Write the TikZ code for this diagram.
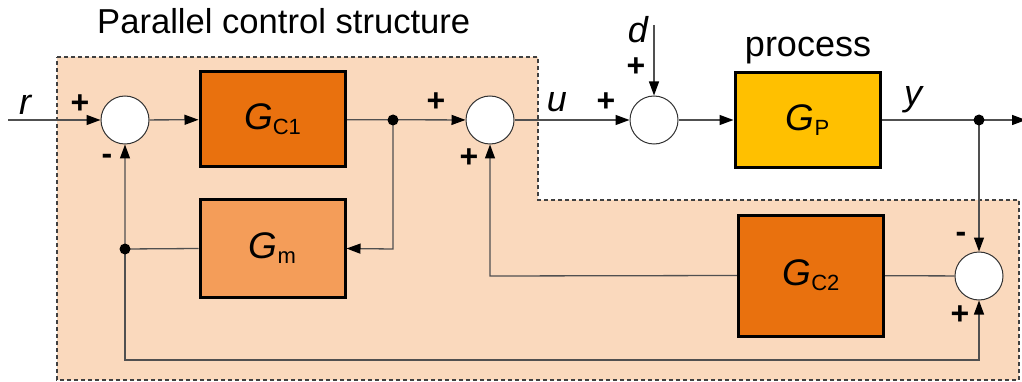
\documentclass[tikz,border=0pt]{standalone}
\usepackage{fontspec}
\setmainfont{Liberation Sans}
\usetikzlibrary{arrows.meta,backgrounds}
\definecolor{peach}{RGB}{250,217,189}
\definecolor{orangeC}{RGB}{233,113,14}
\definecolor{gmc}{RGB}{244,157,89}
\definecolor{gpc}{RGB}{255,192,0}
\definecolor{linec}{RGB}{80,80,80}
\newcommand{\glab}[1]{\fontsize{37}{37}\selectfont\itshape G\upshape\raisebox{-5pt}{\fontsize{22}{22}\selectfont #1}}
\begin{document}
\begin{tikzpicture}[x=1pt,y=-1pt,
  block/.style={draw=black, line width=3pt, minimum width=145pt, minimum height=95pt, inner sep=0pt},
  sumj/.style={circle, draw=black!80, fill=white, minimum size=48pt, inner sep=0pt, line width=1pt},
  conn/.style={draw=linec, line width=1.3pt},
  arr/.style={conn, -{Triangle[length=14pt,width=10pt,black]}},
  dot/.style={circle, fill=black, minimum size=11pt, inner sep=0pt},
  sign/.style={font=\fontsize{32}{32}\selectfont\bfseries, inner sep=0pt},
  var/.style={font=\fontsize{36}{36}\selectfont\itshape, inner sep=0pt, anchor=base},
  lbl/.style={font=\fontsize{36}{36}\selectfont, inner sep=0pt}
]
\useasboundingbox (0,0) rectangle (1022,382);
\begin{scope}[on background layer]
  \path[fill=peach, draw=black!75, line width=1.3pt, dash pattern=on 4pt off 3pt]
    (57,57) -- (538,57) -- (538,200) -- (1019,200) -- (1019,380) -- (57,380) -- cycle;
\end{scope}

% nodes
\node[sumj] (s1) at (125,120) {};
\node[block, fill=orangeC] (gc1) at (272.5,119.5) {\glab{C1}};
\node[dot] (j1) at (393,120) {};
\node[sumj] (s2) at (490,120) {};
\node[sumj] (s3) at (654,120) {};
\node[block, fill=gpc] (gp) at (807.5,120) {\glab{P}};
\node[dot] (j3) at (979,120) {};
\node[block, fill=gmc, minimum height=97pt] (gm) at (272.5,248.5) {\glab{m}};
\node[dot] (j2) at (125,249) {};
\node[block, fill=orangeC, minimum height=121pt] (gc2) at (811,275.5) {\glab{C2}};
\node[sumj] (s4) at (979,276) {};

\coordinate (rin) at (8,120);
\coordinate (dout) at (1026,120);
\coordinate (din) at (654,25);
\coordinate (b1) at (393,249);
\coordinate (b2) at (125,360);
\coordinate (b3) at (490,276);

% labels
\node[lbl, anchor=base west, font=\fontsize{34.6}{35}\selectfont] (title) at (97,34) {Parallel control structure};
\node[lbl, anchor=base] (proc) at (808,57) {process};
\node[var] (lr) at (25,115) {r};
\node[var] (lu) at (557,112) {u};
\node[var] (ld) at (638,43) {d};
\node[var] (ly) at (913,106) {y};
\node[sign] (p1) at (80,104) {+};
\node[sign] (m1) at (107,159) {-};
\node[sign] (p2) at (436,102) {+};
\node[sign] (p3) at (469,158) {+};
\node[sign] (p4) at (606,102) {+};
\node[sign] (p5) at (636,67) {+};
\node[sign] (m4) at (961,237) {-};
\node[sign] (p6) at (960,315) {+};

% connectors
\begin{scope}[on background layer]
\draw[arr] (rin) -- (s1);
\draw[arr] (s1) -- (gc1);
\draw[arr] (gc1) -- (s2);
\draw[arr] (j1.center) -- (b1) -- (gm.east);
\draw[arr] (gm.west) -- (j2.center) -- (s1);
\draw[arr] (j2.center) -- (b2) -| (s4.south);
\draw[arr] (s2) -- (s3);
\draw[arr] (din) -- (s3);
\draw[arr] (s3) -- (gp);
\draw[arr] (gp) -- (dout);
\draw[arr] (j3.center) -- (s4);
\draw[conn] (s4) -- (gc2);
\draw[arr] (gc2.west) -- (b3) -- (s2);
\end{scope}
\end{tikzpicture}
\end{document}
